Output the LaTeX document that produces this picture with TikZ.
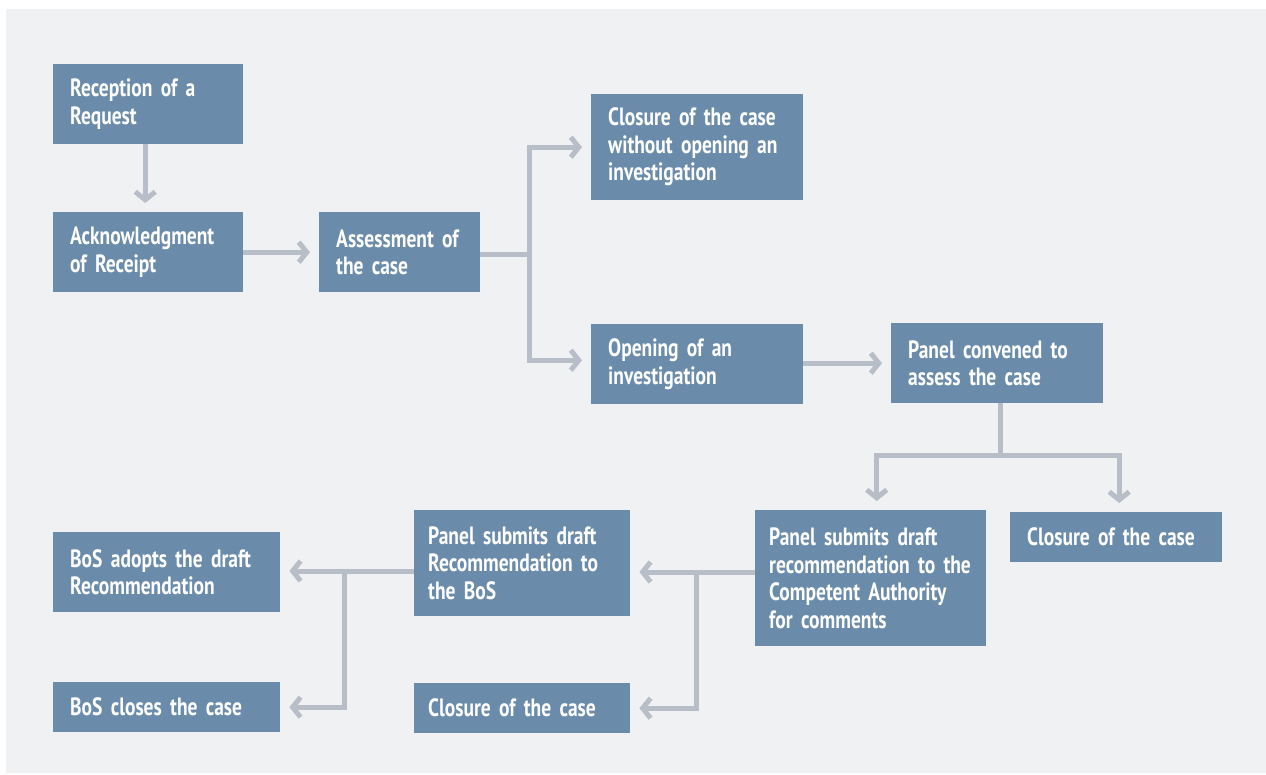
\documentclass[tikz,border=0pt]{standalone}
\usepackage{fontspec}
\newfontfamily\boxfont{PT Sans}[FakeStretch=0.78]
\usepackage{tikz}
\usetikzlibrary{arrows.meta,positioning,calc}
\definecolor{Panel}{HTML}{F0F1F3}
\definecolor{Steel}{HTML}{6A8CAA}
\definecolor{Rail}{HTML}{B8BEC8}
\newcommand\boxtype{\boxfont\bfseries\fontsize{25}{27.5}\selectfont\spaceskip=3pt plus 0.5pt}
\tikzset{
  box/.style={fill=Steel,text=white,anchor=north west,inner xsep=17pt,inner ysep=0pt,
    align=left,font=\boxtype},
  boxA/.style={box,minimum height=80pt,text width=156pt},
  rail/.style={draw=Rail,line width=5pt},
  arrow/.style={rail,-{Straight Barb[length=8pt,width=20pt]},shorten >=9pt}
}
\begin{document}
\begin{tikzpicture}[x=1pt,y=-1pt]
  \useasboundingbox (0,0) rectangle (1266,775);
  \fill[Panel] (6,9) rectangle (1266,773);

  \node[boxA] (req) at (53,64) {Reception of a\\Request};
  \node[boxA] (ack) at (53,212) {Acknowledgment\\of Receipt};
  \node[box,minimum height=80pt,text width=127pt] (assess) at (319,212) {Assessment of\\the case};
  \node[box,minimum height=106pt,text width=178pt] (closeno) at (591,94) {Closure of the case\\without opening an\\investigation};
  \node[box,minimum height=80pt,text width=178pt] (open) at (591,324) {Opening of an\\investigation};
  \node[box,minimum height=80pt,text width=178pt] (panel) at (891,323) {Panel convened to\\assess the case};
  \node[box,inner xsep=14pt,minimum height=136pt,text width=203pt] (submitca) at (755,510) {Panel submits draft\\recommendation to the\\Competent Authority\\for comments};
  \node[box,minimum height=50pt,text width=178pt] (close2) at (1010,512) {Closure of the case};
  \node[box,inner xsep=14pt,minimum height=106pt,text width=188pt] (submitbos) at (414,510) {Panel submits draft\\Recommendation to\\the BoS};
  \node[box,inner xsep=14pt,minimum height=50pt,text width=188pt] (close3) at (414,683) {Closure of the case};
  \node[box,minimum height=80pt,text width=193pt] (adopt) at (53,532) {BoS adopts the draft\\Recommendation};
  \node[box,minimum height=50pt,text width=193pt] (boscl) at (53,682) {BoS closes the case};

  \coordinate (split1) at (529,255);
  \coordinate (split2) at (1000,455);
  \coordinate (split3) at (696,572);
  \coordinate (split4) at (344,571);

  \draw[arrow] ([xshift=-3pt]req.south) -- ([xshift=-3pt]ack.north);
  \draw[arrow] (ack) -- (assess);
  \draw[rail] (assess.east |- split1) -- (split1);
  \draw[arrow] ([yshift=-2.5pt]split1) |- (closeno.west);
  \draw[arrow] ([yshift=2.5pt]split1) |- ([yshift=4pt]open.west);
  \draw[arrow] (open.east |- panel.west) -- (panel.west);
  \draw[rail] (panel.south -| split2) -- (split2);
  \draw[arrow] ([xshift=2.5pt]split2) -| ([xshift=6pt]submitca.north);
  \draw[arrow] ([xshift=-2.5pt]split2) -| ([xshift=3pt]close2.north);
  \draw[rail] (submitca.west |- split3) -- (split3);
  \draw[arrow] (split3) -- (submitbos.east |- split3);
  \draw[arrow] ([yshift=-2.5pt]split3) |- (close3.east);
  \draw[rail] (submitbos.west |- split4) -- (split4);
  \draw[arrow] (split4) -- (adopt.east |- split4);
  \draw[arrow] ([yshift=-2.5pt]split4) |- (boscl.east);
\end{tikzpicture}
\end{document}
